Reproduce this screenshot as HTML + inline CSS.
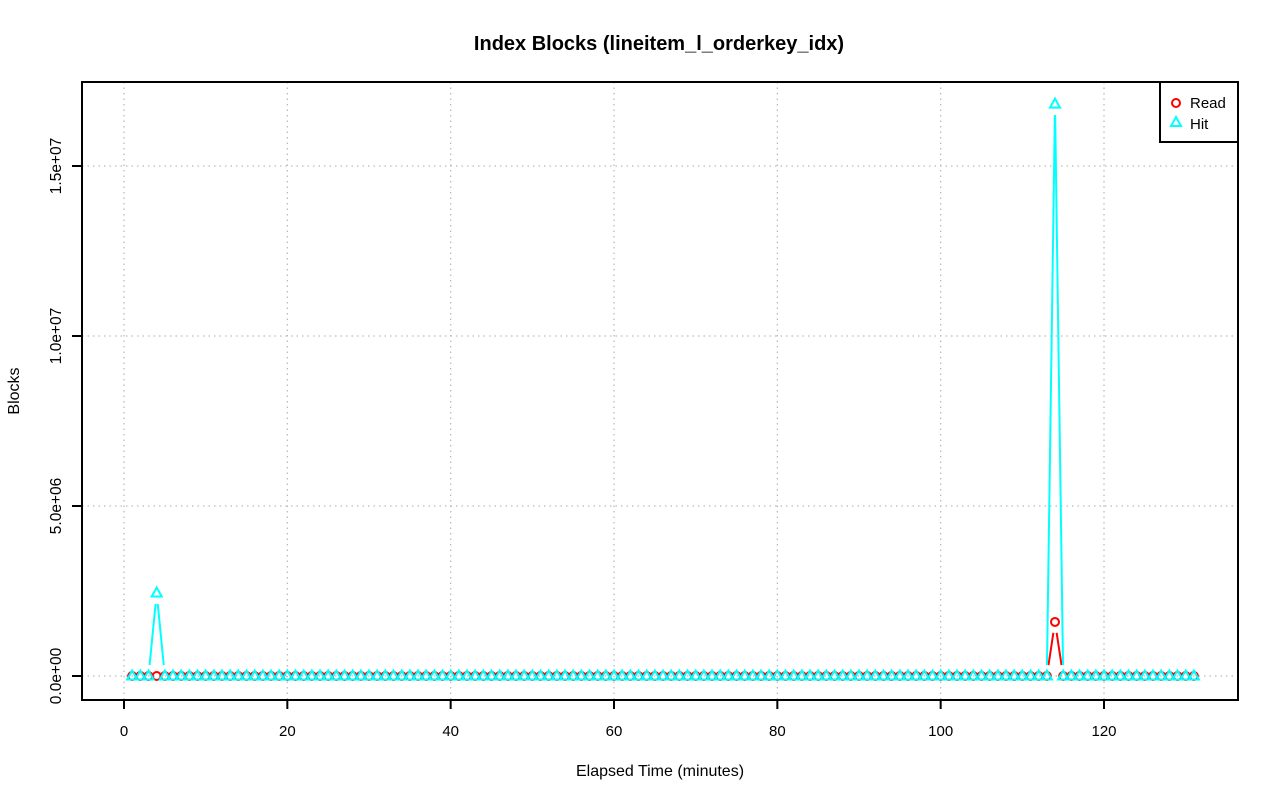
<!DOCTYPE html>
<html><head><meta charset="utf-8"><style>
body{margin:0;background:#fff}
svg{display:block;font-family:"Liberation Sans",sans-serif}
</style></head><body>
<svg id="chart" width="1280" height="801">
<text x="659" y="50" text-anchor="middle" font-size="20" font-weight="bold">Index Blocks (lineitem_l_orderkey_idx)</text>
<text x="660" y="776" text-anchor="middle" font-size="16">Elapsed Time (minutes)</text>
<text transform="translate(19,391) rotate(-90)" text-anchor="middle" font-size="16">Blocks</text>
<g id="grid"></g>
<g id="axes"></g>
<g id="series"></g>
<rect x="82" y="82" width="1156" height="618" fill="none" stroke="#000" stroke-width="2"/>
<g>
<rect x="1160" y="82" width="78" height="60" fill="#fff" stroke="#000" stroke-width="2"/>
<circle cx="1176" cy="103" r="4" fill="none" stroke="red" stroke-width="2"/>
<text x="1190" y="108" font-size="15">Read</text>
<polygon points="1176,117 1181,126 1171,126" fill="none" stroke="cyan" stroke-width="2"/>
<text x="1190" y="129" font-size="15">Hit</text>
</g>
</svg>
<script>
const minutes = Array.from({length:131},(_,i)=>i+1);
const readValues = minutes.map(m => m===114 ? 1590000 : 0);
const hitValues = minutes.map(m => m===4 ? 2440000 : (m===114 ? 16820000 : 0));
const xTicks = [0,20,40,60,80,100,120];
const yTicks = [0,5e6,1e7,1.5e7];
const yTickLabels = ["0.0e+00","5.0e+06","1.0e+07","1.5e+07"];

const NS="http://www.w3.org/2000/svg";
const xs = v => 124 + v*8.1667;
const ys = v => 676 - v*34e-6;
function mk(tag, attrs, parent){const e=document.createElementNS(NS,tag);for(const k in attrs)e.setAttribute(k,attrs[k]);parent.appendChild(e);return e;}
const grid=document.getElementById('grid'), axes=document.getElementById('axes'), series=document.getElementById('series');

xTicks.forEach(t=>{
  const g=mk('line',{x1:xs(t),x2:xs(t),y1:82,y2:700,stroke:'#bbb','stroke-width':1.3,'stroke-dasharray':'1.5 4'},grid);
  
  
  const l=mk('line',{x1:xs(t),x2:xs(t),y1:700,y2:709,stroke:'#000','stroke-width':2},axes);
  
  
  const tx=mk('text',{x:xs(t),y:736,'text-anchor':'middle','font-size':15},axes);
  tx.textContent=t;
  
  
});
yTicks.forEach((t,i)=>{
  const g=mk('line',{x1:82,x2:1238,y1:ys(t),y2:ys(t),stroke:'#bbb','stroke-width':1.3,'stroke-dasharray':'1.5 4'},grid);
  
  
  const l=mk('line',{x1:72,x2:82,y1:ys(t),y2:ys(t),stroke:'#000','stroke-width':2},axes);
  
  
  const tx=mk('text',{transform:`translate(61,${ys(t)}) rotate(-90)`,'text-anchor':'middle','font-size':15.5},axes);
  tx.textContent=yTickLabels[i];
  
  
});
function drawSeries(vals,color,shape,name){
  const g=mk('g',{},series);
  
  
  for(let i=0;i<vals.length-1;i++){
    const x1=xs(minutes[i]),y1=ys(vals[i]),x2=xs(minutes[i+1]),y2=ys(vals[i+1]);
    const d=Math.hypot(x2-x1,y2-y1),gap=11;
    if(d<=2*gap)continue;
    const ux=(x2-x1)/d,uy=(y2-y1)/d;
    const ln=mk('line',{x1:x1+ux*gap,y1:y1+uy*gap,x2:x2-ux*gap,y2:y2-uy*gap,stroke:color,'stroke-width':2},g);
    
    
  }
  vals.forEach((v,i)=>{
    const x=xs(minutes[i]),y=ys(v);
    let p;
    if(shape==='circle') p=mk('circle',{cx:x,cy:y,r:4,fill:'none',stroke:color,'stroke-width':2},g);
    else p=mk('polygon',{points:`${x},${y-5.5} ${x+5},${y+3.5} ${x-5},${y+3.5}`,fill:'none',stroke:color,'stroke-width':2},g);
    
    
  });
}
drawSeries(readValues,'red','circle','read');
drawSeries(hitValues,'cyan','triangle','hit');
</script>
</body></html>
